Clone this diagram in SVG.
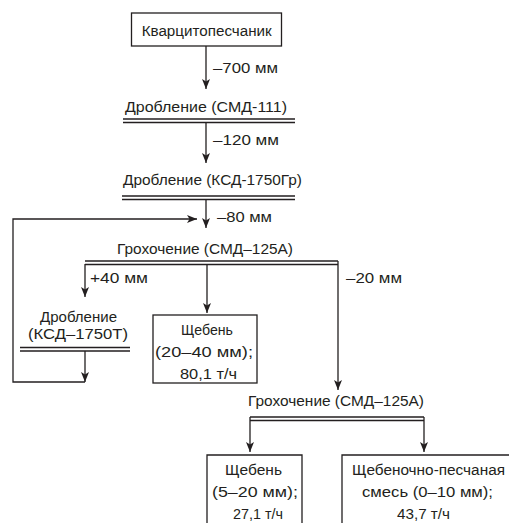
<svg xmlns="http://www.w3.org/2000/svg" width="509" height="523" viewBox="0 0 509 523">
<style>
text{font-family:"Liberation Sans","DejaVu Sans",sans-serif;font-size:15.5px;fill:#231f20}
.ln{fill:none;stroke:#231f20;stroke-width:1.3}
.box{fill:#fff;stroke:#231f20;stroke-width:1.3}
</style>
<defs>
<marker id="ah" viewBox="0 0 10 8" refX="10" refY="4" markerWidth="10" markerHeight="8" orient="auto" markerUnits="userSpaceOnUse">
<path d="M0,0 L10,4 L0,8 L2.5,4 Z" fill="#231f20"/>
</marker>
</defs>
<rect width="509" height="523" fill="#fff"/>

<g id="connectors">
<path class="ln" d="M206,46 V89" marker-end="url(#ah)"/>
<path class="ln" d="M206,122.5 V163" marker-end="url(#ah)"/>
<path class="ln" d="M206,199.5 V228" marker-end="url(#ah)"/>
<path class="ln" d="M85,382 H13 V219 H197" marker-end="url(#ah)"/>
<path class="ln" d="M85,264 V297" marker-end="url(#ah)"/>
<path class="ln" d="M207,264 V313" marker-end="url(#ah)"/>
<path class="ln" d="M338,261 V390" marker-end="url(#ah)"/>
<path class="ln" d="M85,351 V382" marker-end="url(#ah)"/>
<path class="ln" d="M250,417 V452" marker-end="url(#ah)"/>
<path class="ln" d="M424,417 V452" marker-end="url(#ah)"/>
<text x="213" y="73" textLength="65" lengthAdjust="spacingAndGlyphs">–700 мм</text>
<text x="213" y="145" textLength="66" lengthAdjust="spacingAndGlyphs">–120 мм</text>
<text x="217" y="222" textLength="55" lengthAdjust="spacingAndGlyphs">–80 мм</text>
<text x="90" y="283" textLength="58" lengthAdjust="spacingAndGlyphs">+40 мм</text>
<text x="346" y="283" textLength="56" lengthAdjust="spacingAndGlyphs">–20 мм</text>
</g>

<g id="n1">
<rect class="box" x="131.5" y="13" width="150" height="33"/>
<text x="141.7" y="36" textLength="130" lengthAdjust="spacingAndGlyphs">Кварцитопесчаник</text>
</g>

<g id="n2">
<text x="125" y="112" textLength="162" lengthAdjust="spacingAndGlyphs">Дробление (СМД-111)</text>
<path class="ln" d="M123,119 H295 M123,122.5 H295"/>
</g>

<g id="n3">
<text x="123" y="185" textLength="179" lengthAdjust="spacingAndGlyphs">Дробление (КСД-1750Гр)</text>
<path class="ln" d="M122,196 H295 M122,199.5 H295"/>
</g>

<g id="n4">
<text x="117" y="254" textLength="176" lengthAdjust="spacingAndGlyphs">Грохочение (СМД–125А)</text>
<path class="ln" d="M85,261 H338 M85,264.5 H338"/>
</g>

<g id="n5">
<text x="40" y="321.5" textLength="77" lengthAdjust="spacingAndGlyphs">Дробление</text>
<text x="28" y="338.5" textLength="100" lengthAdjust="spacingAndGlyphs">(КСД–1750Т)</text>
<path class="ln" d="M20,347.5 H130 M20,351 H130"/>
</g>

<g id="n6">
<rect class="box" x="153" y="315" width="104" height="68"/>
<text x="181" y="335" textLength="52" lengthAdjust="spacingAndGlyphs">Щебень</text>
<text x="155" y="357" textLength="98" lengthAdjust="spacingAndGlyphs">(20–40 мм);</text>
<text x="180" y="378.5" textLength="57" lengthAdjust="spacingAndGlyphs">80,1 т/ч</text>
</g>

<g id="n7">
<text x="248" y="406" textLength="176" lengthAdjust="spacingAndGlyphs">Грохочение (СМД–125А)</text>
<path class="ln" d="M250,417 H424 M250,420.5 H424"/>
</g>

<g id="n8">
<path class="box" d="M207,523 V455 H302 V523"/>
<text x="225" y="475" textLength="57" lengthAdjust="spacingAndGlyphs">Щебень</text>
<text x="212" y="497" textLength="86" lengthAdjust="spacingAndGlyphs">(5–20 мм);</text>
<text x="233" y="518.5" textLength="50" lengthAdjust="spacingAndGlyphs">27,1 т/ч</text>
</g>

<g id="n9">
<path class="box" d="M342,523 V455 H509"/>
<text x="352" y="475" textLength="153" lengthAdjust="spacingAndGlyphs">Щебеночно-песчаная</text>
<text x="362" y="497" textLength="131" lengthAdjust="spacingAndGlyphs">смесь (0–10 мм);</text>
<text x="397" y="518.5" textLength="53" lengthAdjust="spacingAndGlyphs">43,7 т/ч</text>
</g>
</svg>
